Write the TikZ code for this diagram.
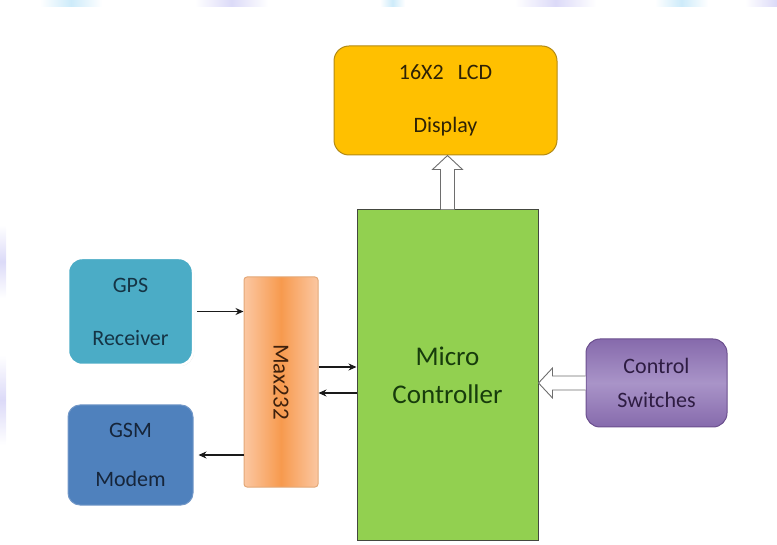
\documentclass[tikz,border=0pt]{standalone}
\usepackage{fontspec}
\setmainfont{Carlito}
\usetikzlibrary{calc,arrows.meta,shadows}

\definecolor{lcdfill}{HTML}{FFC000}
\definecolor{lcdline}{HTML}{B38A14}
\definecolor{lcdtext}{HTML}{2E2206}
\definecolor{mcfill}{HTML}{92D050}
\definecolor{mcline}{HTML}{44483F}
\definecolor{mctext}{HTML}{173C0C}
\definecolor{gpsfill}{HTML}{4BACC6}
\definecolor{gpstext}{HTML}{153445}
\definecolor{gsmfill}{HTML}{4F81BD}
\definecolor{gsmline}{HTML}{7398C8}
\definecolor{gsmtext}{HTML}{16253A}
\definecolor{maxedge}{HTML}{FBC7A2}
\definecolor{maxmid}{HTML}{F79A4E}
\definecolor{maxline}{HTML}{E3A877}
\definecolor{maxtext}{HTML}{3E200C}
\definecolor{csedge}{HTML}{866AAC}
\definecolor{csmid}{HTML}{A994C8}
\definecolor{csline}{HTML}{6B4F8E}
\definecolor{cstext}{HTML}{2E1C42}
\definecolor{wire}{HTML}{1A1A1A}
\definecolor{hollowline}{HTML}{6E6E6E}
\definecolor{bandblue}{HTML}{CDEBFA}
\definecolor{bandlav}{HTML}{DCDAF8}

\tikzset{
  block/.style={inner sep=0pt, align=center, line width=1pt},
  wirearrow/.style={draw=wire, line width=1.3pt, -{Stealth[length=8pt,width=7pt]}},
  hollow/.style={draw=hollowline, fill=white, line width=0.9pt, line join=miter},
}

\begin{document}
\begin{tikzpicture}[x=1pt,y=-1pt]
  \useasboundingbox (0,0) rectangle (777,545);

  % faint banner strip along the top and left edges
  \foreach \a/\b/\c in {40/102/bandblue,195/268/bandlav,380/405/bandblue,515/596/bandlav,655/708/bandblue}
    \shade[left color=white, right color=white, middle color=\c] (\a,0) rectangle (\b,7);
  \shade[left color=white, right color=bandlav] (745,0) rectangle (777,7);
  \shade[top color=white, bottom color=white, middle color=bandlav] (0,225) rectangle (6,298);
  \shade[top color=white, bottom color=white, middle color=bandlav] (0,355) rectangle (6,445);

  % blocks
  \node[block, draw=lcdline, fill=lcdfill, rounded corners=15pt,
        minimum width=223pt, minimum height=109pt, text=lcdtext,
        font={\fontsize{22}{53}\selectfont}] (lcd) at (445.5,100.5)
        {16X2\hspace{14pt}LCD\\Display};

  \node[block, draw=mcline, fill=mcfill, minimum width=181pt, minimum height=330pt,
        text=mctext, font={\fontsize{27}{38}\selectfont}] (mc) at (447.5,375)
        {Micro\\Controller};

  \node[block, draw=white, line width=2.5pt, fill=gpsfill, rounded corners=14pt,
        drop shadow={opacity=0.25, shadow xshift=1pt, shadow yshift=-1pt},
        minimum width=125pt, minimum height=107pt, text=gpstext,
        font={\fontsize{22}{53}\selectfont}] (gps) at (130.5,311.5)
        {GPS\\Receiver};

  \node[block, draw=gsmline, fill=gsmfill, rounded corners=12pt,
        minimum width=125pt, minimum height=100pt, text=gsmtext,
        font={\fontsize{22}{49}\selectfont}] (gsm) at (130.5,455)
        {GSM\\Modem};

  \node[block, draw=maxline, left color=maxedge, right color=maxedge, middle color=maxmid,
        rounded corners=3pt, minimum width=74pt, minimum height=210pt] (max) at (281,382) {};
  \node[rotate=-90, text=maxtext, font={\fontsize{23}{28}\selectfont}, inner sep=0pt]
        (maxlabel) at (max.center) {Max232};

  \node[block, draw=csline, top color=csedge, bottom color=csedge, middle color=csmid,
        rounded corners=14pt, minimum width=141pt, minimum height=88pt, text=cstext,
        font={\fontsize{22}{34}\selectfont}] (cs) at (656.5,383)
        {Control\\Switches};

  % hollow bus arrow: controller up to the display
  \filldraw[hollow] ($(mc.north)+(-7,0)$) -- ++(0,-40) -- ++(-8,0)
    -- (mc.north |- lcd.south) -- ($(mc.north)+(15,-40)$) -- ++(-8,0) -- ++(0,40);

  % hollow bus arrow: switches into the controller
  \filldraw[hollow] ($(cs.west)+(0,-7)$) -- ++(-33,0) -- ++(0,-8)
    -- (mc.east |- cs.west) -- ($(cs.west)+(-33,15)$) -- ++(0,-8) -- ++(33,0);

  % serial lines
  \coordinate (gpsout) at ($(gps.east)+(3,0)$);
  \draw[wirearrow] (gpsout) -- (max.west |- gpsout);

  \coordinate (maxtx) at ($(max.east)+(0,-15)$);
  \draw[wirearrow] (maxtx) -- (mc.west |- maxtx);

  \coordinate (maxrx) at ($(max.east)+(0,11)$);
  \draw[wirearrow] (mc.west |- maxrx) -- (maxrx);

  \coordinate (gsmin) at ($(gsm.east)+(5,0)$);
  \draw[wirearrow] (max.west |- gsmin) -- (gsmin);
\end{tikzpicture}
\end{document}
